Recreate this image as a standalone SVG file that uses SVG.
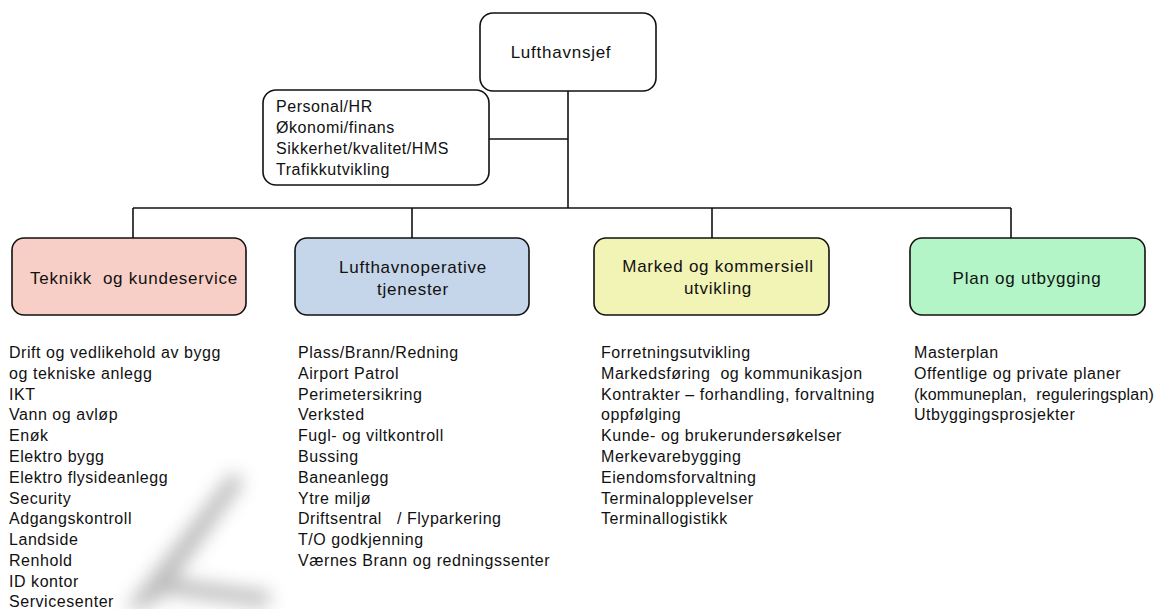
<svg xmlns="http://www.w3.org/2000/svg" width="1162" height="609" viewBox="0 0 1162 609">
<defs>
<style>
.box{stroke:#111;stroke-width:1.6}
.t{font-family:"Liberation Sans",Arial,sans-serif;font-size:16px;letter-spacing:0.55px;fill:#111}
.h{font-family:"Liberation Sans",Arial,sans-serif;font-size:17px;letter-spacing:0.75px;fill:#111}
.c{text-anchor:middle}
.ln{stroke:#111;stroke-width:1.6;fill:none}
</style>
<filter id="blur" x="-50%" y="-50%" width="200%" height="200%"><feGaussianBlur stdDeviation="9"/></filter>
</defs>
<rect width="1162" height="609" fill="#fff"/>
<g id="watermark" filter="url(#blur)" fill="#9a9a9a" opacity="0.65">
<path d="M232 472 L244 482 L160 600 L140 609 L125 609 Z"/>
<path d="M170 578 L272 592 L266 607 L165 594 Z"/>
</g>
<g id="connectors">
<line class="ln" x1="568" y1="91" x2="568" y2="208"/>
<line class="ln" x1="489" y1="139" x2="568" y2="139"/>
<line class="ln" x1="133" y1="208" x2="1011" y2="208"/>
<line class="ln" x1="133" y1="208" x2="133" y2="238"/>
<line class="ln" x1="412" y1="208" x2="412" y2="238"/>
<line class="ln" x1="712" y1="208" x2="712" y2="238"/>
<line class="ln" x1="1011" y1="208" x2="1011" y2="238"/>
</g>
<g id="lufthavnsjef">
<rect class="box" x="480" y="13" width="176" height="78" rx="13" fill="#fff"/>
<text class="h c" x="561" y="58">Lufthavnsjef</text>
</g>
<g id="stab">
<rect class="box" x="263" y="90" width="226" height="95" rx="13" fill="#fff"/>
<text class="t" x="276" y="112">Personal/HR</text>
<text class="t" x="276" y="133">Økonomi/finans</text>
<text class="t" x="276" y="154">Sikkerhet/kvalitet/HMS</text>
<text class="t" x="276" y="175">Trafikkutvikling</text>
</g>
<g id="teknikk">
<rect class="box" x="12" y="238" width="234" height="77" rx="12" fill="#f8cfc6"/>
<text class="h c" x="134" y="284" xml:space="preserve">Teknikk  og kundeservice</text>
</g>
<g id="lufthavnoperative">
<rect class="box" x="295" y="238" width="234" height="77" rx="12" fill="#c5d5ea"/>
<text class="h c" x="413" y="273">Lufthavnoperative</text>
<text class="h c" x="413" y="295">tjenester</text>
</g>
<g id="marked">
<rect class="box" x="594" y="238" width="235" height="77" rx="12" fill="#f2f4b6"/>
<text class="h c" x="718" y="272">Marked og kommersiell</text>
<text class="h c" x="718" y="294">utvikling</text>
</g>
<g id="plan">
<rect class="box" x="910" y="238" width="235" height="77" rx="12" fill="#b3f5c7"/>
<text class="h c" x="1027" y="284">Plan og utbygging</text>
</g>
<g id="liste-teknikk">
<text class="t" x="9" y="358">Drift og vedlikehold av bygg</text>
<text class="t" x="9" y="379">og tekniske anlegg</text>
<text class="t" x="9" y="400">IKT</text>
<text class="t" x="9" y="420">Vann og avløp</text>
<text class="t" x="9" y="441">Enøk</text>
<text class="t" x="9" y="462">Elektro bygg</text>
<text class="t" x="9" y="483">Elektro flysideanlegg</text>
<text class="t" x="9" y="504">Security</text>
<text class="t" x="9" y="524">Adgangskontroll</text>
<text class="t" x="9" y="545">Landside</text>
<text class="t" x="9" y="566">Renhold</text>
<text class="t" x="9" y="587">ID kontor</text>
<text class="t" x="9" y="607">Servicesenter</text>
</g>
<g id="liste-lufthavnoperative">
<text class="t" x="298" y="358">Plass/Brann/Redning</text>
<text class="t" x="298" y="379">Airport  Patrol</text>
<text class="t" x="298" y="400">Perimetersikring</text>
<text class="t" x="298" y="420">Verksted</text>
<text class="t" x="298" y="441">Fugl- og viltkontroll</text>
<text class="t" x="298" y="462">Bussing</text>
<text class="t" x="298" y="483">Baneanlegg</text>
<text class="t" x="298" y="504">Ytre miljø</text>
<text class="t" x="298" y="524" xml:space="preserve">Driftsentral   / Flyparkering</text>
<text class="t" x="298" y="545">T/O godkjenning</text>
<text class="t" x="298" y="566">Værnes Brann og redningssenter</text>
</g>
<g id="liste-marked">
<text class="t" x="601" y="358">Forretningsutvikling</text>
<text class="t" x="601" y="379" xml:space="preserve">Markedsføring  og kommunikasjon</text>
<text class="t" x="601" y="400">Kontrakter – forhandling, forvaltning</text>
<text class="t" x="601" y="420">oppfølging</text>
<text class="t" x="601" y="441">Kunde- og brukerundersøkelser</text>
<text class="t" x="601" y="462">Merkevarebygging</text>
<text class="t" x="601" y="483">Eiendomsforvaltning</text>
<text class="t" x="601" y="504">Terminalopplevelser</text>
<text class="t" x="601" y="524">Terminallogistikk</text>
</g>
<g id="liste-plan">
<text class="t" x="914" y="358">Masterplan</text>
<text class="t" x="914" y="379">Offentlige og private planer</text>
<text class="t" x="914" y="400" style="letter-spacing:0.2px" xml:space="preserve">(kommuneplan,  reguleringsplan)</text>
<text class="t" x="914" y="420">Utbyggingsprosjekter</text>
</g>
</svg>
